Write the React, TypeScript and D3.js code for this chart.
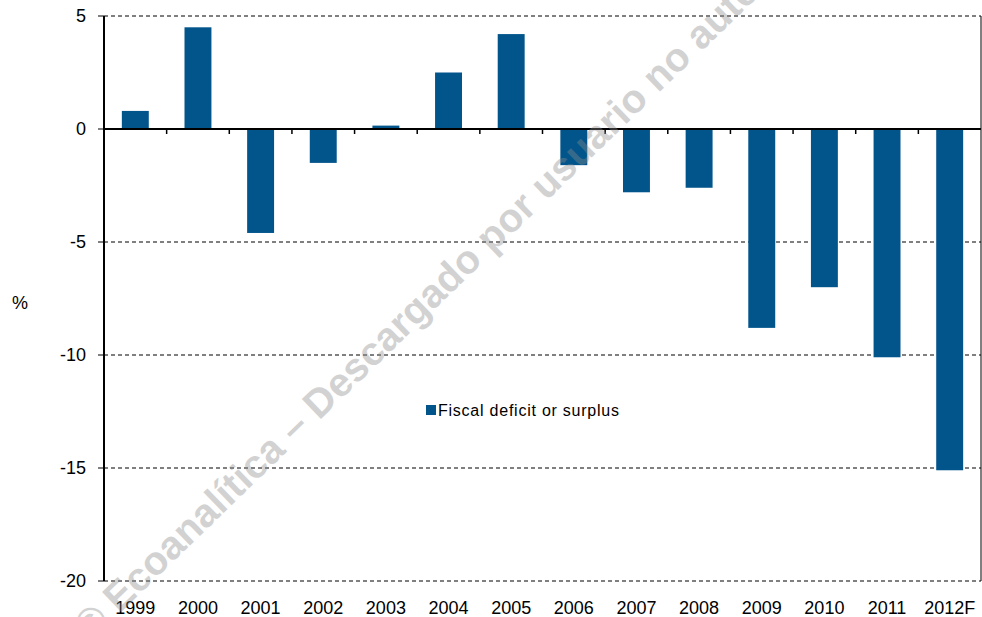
import React, { useEffect, useRef } from 'react';
import * as d3 from 'd3';

const years = ['1999', '2000', '2001', '2002', '2003', '2004', '2005', '2006', '2007', '2008', '2009', '2010', '2011', '2012F'];
const balance = [0.8, 4.5, -4.6, -1.5, 0.15, 2.5, 4.2, -1.6, -2.8, -2.6, -8.8, -7.0, -10.1, -15.1];
const yTicks = [5, 0, -5, -10, -15, -20];
const seriesName = 'Fiscal deficit or surplus';
const watermark = '© Ecoanalítica – Descargado por usuario no autenticado';

const width = 982;
const height = 617;
const barColor = '#02558b';
const font = "'Liberation Sans', Arial, sans-serif";

const App: React.FC = () => {
  const svgRef = useRef<SVGSVGElement>(null);

  useEffect(() => {
    const svg = d3.select(svgRef.current);
    svg.selectAll('*').remove();

    const margin = { top: 16, right: 1, bottom: 36, left: 104 };
    const innerWidth = width - margin.left - margin.right;
    const innerHeight = height - margin.top - margin.bottom;

    const g = svg.append('g')
      .attr('transform', `translate(${margin.left},${margin.top})`);

    const x = d3.scaleBand()
      .domain(years)
      .range([0, innerWidth])
      .paddingInner(0.57)
      .paddingOuter(0.285);

    const y = d3.scaleLinear()
      .domain([-20, 5])
      .range([innerHeight, 0]);

    // dashed gridlines
    g.selectAll('.grid')
      .data(yTicks.filter(t => t !== 0))
      .enter()
      .append('line')
      .attr('x1', 0)
      .attr('x2', innerWidth)
      .attr('y1', d => y(d))
      .attr('y2', d => y(d))
      .attr('stroke', '#000')
      .attr('stroke-width', 1)
      .attr('stroke-dasharray', '4,3');

    // right border
    g.append('line')
      .attr('x1', innerWidth).attr('x2', innerWidth)
      .attr('y1', 0).attr('y2', innerHeight)
      .attr('stroke', '#000');

    // bars
    g.selectAll('.bar')
      .data(balance)
      .enter()
      .append('rect')
      .attr('x', (d, i) => x(years[i]) as number)
      .attr('y', d => y(Math.max(0, d)))
      .attr('width', x.bandwidth())
      .attr('height', d => Math.abs(y(d) - y(0)))
      .attr('fill', barColor);

    // zero axis with ticks at category boundaries
    g.append('line')
      .attr('x1', 0).attr('x2', innerWidth)
      .attr('y1', y(0)).attr('y2', y(0))
      .attr('stroke', '#000')
      .attr('stroke-width', 2);

    g.selectAll('.xtick')
      .data(years.slice(1))
      .enter()
      .append('line')
      .attr('x1', d => (x(d) as number) - x.step() * x.paddingInner() / 2)
      .attr('x2', d => (x(d) as number) - x.step() * x.paddingInner() / 2)
      .attr('y1', y(0))
      .attr('y2', y(0) + 5)
      .attr('stroke', '#000')
      .attr('stroke-width', 1.5);

    // y axis
    g.append('line')
      .attr('x1', 0).attr('x2', 0)
      .attr('y1', 0).attr('y2', innerHeight)
      .attr('stroke', '#000')
      .attr('stroke-width', 2);

    g.selectAll('.ytick')
      .data(yTicks)
      .enter()
      .append('line')
      .attr('x1', -6).attr('x2', 0)
      .attr('y1', d => y(d)).attr('y2', d => y(d))
      .attr('stroke', '#000');

    g.selectAll('.ylabel')
      .data(yTicks)
      .enter()
      .append('text')
      .attr('x', -18)
      .attr('y', d => y(d))
      .attr('dy', '0.36em')
      .style('text-anchor', 'end')
      .style('font-family', font)
      .style('font-size', '18px')
      .style('fill', '#000')
      .text(d => d);

    // x labels
    g.selectAll('.xlabel')
      .data(years)
      .enter()
      .append('text')
      .attr('x', d => (x(d) as number) + x.bandwidth() / 2)
      .attr('y', innerHeight + 33)
      .style('text-anchor', 'middle')
      .style('font-family', font)
      .style('font-size', '18px')
      .style('fill', '#000')
      .text(d => d);

    // unit label
    svg.append('text')
      .attr('x', 12)
      .attr('y', 309)
      .style('font-family', font)
      .style('font-size', '18px')
      .style('fill', '#000')
      .text('%');

    // legend
    const legend = svg.append('g')
      .attr('transform', 'translate(426,405)');
    legend.append('rect')
      .attr('width', 10)
      .attr('height', 10)
      .attr('fill', barColor);
    legend.append('text')
      .attr('x', 12)
      .attr('y', 11)
      .attr('textLength', 181)
      .attr('lengthAdjust', 'spacing')
      .style('font-family', font)
      .style('font-size', '16px')
      .style('fill', '#000')
      .text(seriesName);

    // watermark (semi-transparent, on top)
    svg.append('text')
      .attr('transform', 'translate(90,642) rotate(-44)')
      .style('font-family', font)
      .style('font-size', '40px')
      .style('font-weight', 'bold')
      .style('fill', '#8c8c8c')
      .style('opacity', 0.38)
      .text(watermark);
  }, []);

  return (
    <svg
      ref={svgRef}
      width={width}
      height={height}
      style={{ position: 'absolute', left: 0, top: 0, background: '#fff' }}
    />
  );
};

export default App;
